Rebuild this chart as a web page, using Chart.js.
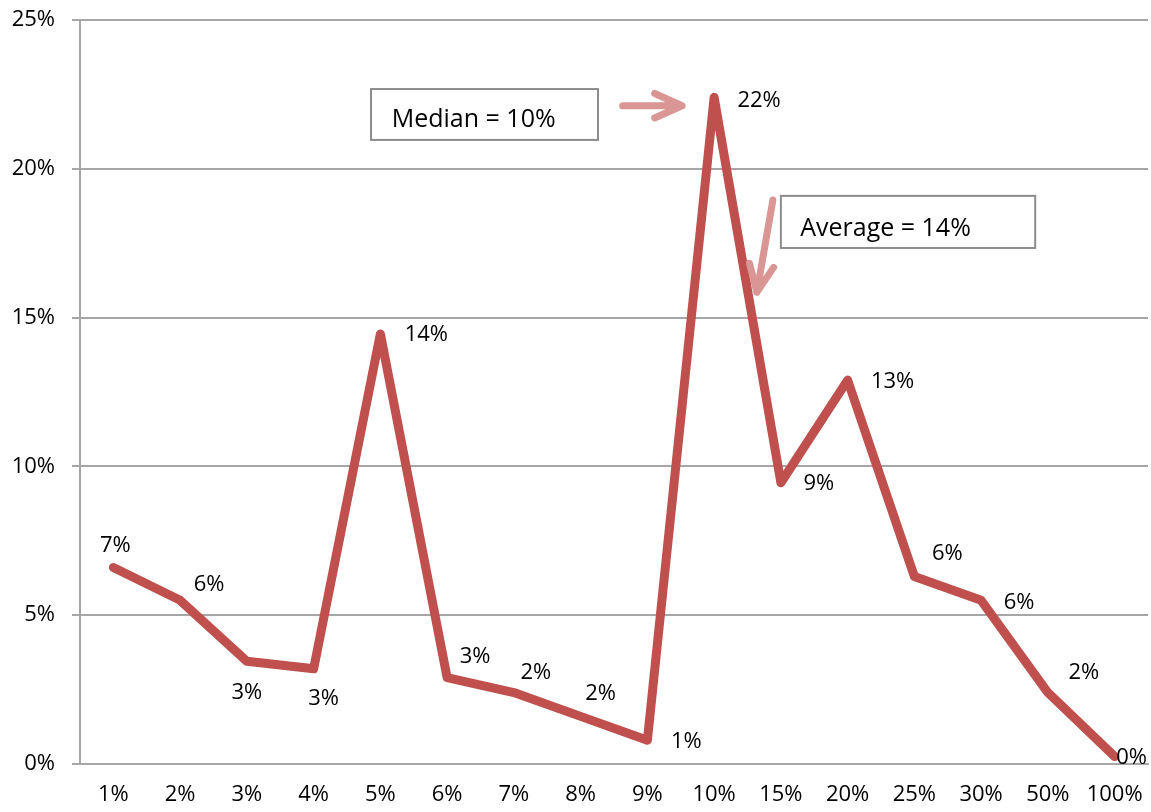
<!DOCTYPE html>
<html>
<head>
<meta charset="utf-8">
<script src="https://cdn.jsdelivr.net/npm/chart.js@4.4.0/dist/chart.umd.min.js"></script>
<style>
  html, body { margin: 0; padding: 0; background: #fff; }
  #wrap { width: 1151px; height: 812px; }
</style>
</head>
<body>
<div id="wrap"><canvas id="myChart"></canvas></div>
<script>
// categories and values (percent)
const categories = ['1%', '2%', '3%', '4%', '5%', '6%', '7%', '8%', '9%', '10%', '15%', '20%', '25%', '30%', '50%', '100%'];
const shares = [6.6, 5.5, 3.45, 3.2, 14.45, 2.9, 2.4, 1.6, 0.8, 22.4, 9.45, 12.9, 6.3, 5.5, 2.4, 0.25];
const yTicks = [0, 5, 10, 15, 20, 25];

// where each data label sits relative to its point (px)
const labelOffsets = [
    [2, -22], [29, -16], [0, 31], [10, 30], [46, 1], [28, -21], [22, -20], [20, -23],
    [39, 2], [45, 3], [38, 1], [45, 2], [33, -23], [38, 2], [36, -20], [17, 1]
];

const FONT = '"Open Sans", "Liberation Sans", sans-serif';

// data labels
const labelPlugin = {
    id: 'pointLabels',
    afterDatasetsDraw(chart) {
        const ctx = chart.ctx;
        const meta = chart.getDatasetMeta(0);
        ctx.save();
        ctx.font = '22px ' + FONT;
        ctx.fillStyle = '#000';
        ctx.textAlign = 'center';
        ctx.textBaseline = 'middle';
        meta.data.forEach((pt, i) => {
            const off = labelOffsets[i];
            ctx.fillText(Math.round(shares[i]) + '%', pt.x + off[0], pt.y + off[1]);
        });
        ctx.restore();
    }
};

// callout boxes and arrows, placed in axis units (category index, percent)
const calloutPlugin = {
    id: 'callouts',
    afterDatasetsDraw(chart) {
        const ctx = chart.ctx;
        const xs = chart.scales.x, ys = chart.scales.y;
        const px = i => xs.getPixelForValue(i);
        const py = v => ys.getPixelForValue(v);

        function box(x0, x1, y0, y1, text, tx, ty) {
            ctx.save();
            ctx.fillStyle = '#fff';
            ctx.strokeStyle = '#8c8c8c';
            ctx.lineWidth = 2;
            const l = px(x0), r = px(x1), t = py(y0), b = py(y1);
            ctx.fillRect(l, t, r - l, b - t);
            ctx.strokeRect(l, t, r - l, b - t);
            ctx.font = '25px ' + FONT;
            ctx.fillStyle = '#000';
            ctx.textAlign = 'left';
            ctx.textBaseline = 'middle';
            ctx.fillText(text, px(tx), py(ty));
            ctx.restore();
        }

        function arrow(x0, y0, x1, y1) {
            const ax = px(x0), ay = py(y0), bx = px(x1), by = py(y1);
            const ang = Math.atan2(by - ay, bx - ax);
            const len = 30, spread = 0.42;
            ctx.save();
            ctx.strokeStyle = '#DA9694';
            ctx.lineWidth = 7;
            ctx.lineCap = 'round';
            ctx.lineJoin = 'round';
            ctx.beginPath();
            ctx.moveTo(ax, ay);
            ctx.lineTo(bx, by);
            ctx.moveTo(bx - len * Math.cos(ang - spread), by - len * Math.sin(ang - spread));
            ctx.lineTo(bx, by);
            ctx.lineTo(bx - len * Math.cos(ang + spread), by - len * Math.sin(ang + spread));
            ctx.stroke();
            ctx.restore();
        }

        box(3.86, 7.26, 22.68, 20.97, 'Median = 10%', 4.17, 21.65);
        arrow(7.63, 22.12, 8.52, 22.12);
        box(10.0, 13.81, 19.09, 17.34, 'Average = 14%', 10.29, 17.98);
        arrow(9.88, 18.95, 9.64, 15.85);
    }
};

const ctx = document.getElementById('myChart').getContext('2d');
const myChart = new Chart(ctx, {
    type: 'line',
    data: {
        labels: categories,
        datasets: [{
            data: shares,
            borderColor: '#C0504D',
            borderWidth: 9,
            borderCapStyle: 'round',
            borderJoinStyle: 'round',
            pointRadius: 0,
            tension: 0,
            fill: false
        }]
    },
    options: {
        responsive: true,
        maintainAspectRatio: false,
        animation: false,
        layout: { padding: { top: 20, right: 3, left: 0, bottom: 0 } },
        plugins: {
            legend: { display: false },
            tooltip: { enabled: false }
        },
        scales: {
            x: {
                offset: true,
                grid: { display: false, drawTicks: false },
                border: { display: true, color: '#a6a6a6', width: 2 },
                ticks: {
                    color: '#000',
                    font: { family: FONT, size: 22 },
                    padding: 18,
                    maxRotation: 0,
                    autoSkip: false
                },
                afterFit(scale) {
                    scale.height = 48;
                    scale.paddingLeft = 0;
                    scale.paddingRight = 0;
                }
            },
            y: {
                min: 0,
                max: 25,
                afterBuildTicks(scale) { scale.ticks = yTicks.map(v => ({ value: v })); },
                grid: { color: '#a6a6a6', lineWidth: 2, tickLength: 8 },
                border: { display: true, color: '#a6a6a6', width: 2 },
                ticks: {
                    color: '#000',
                    font: { family: FONT, size: 22 },
                    padding: 17,
                    callback: v => v + '%'
                },
                afterFit(scale) {
                    scale.width = 80;
                    scale.paddingTop = 0;
                    scale.paddingBottom = 0;
                }
            }
        }
    },
    plugins: [labelPlugin, calloutPlugin]
});
</script>
</body>
</html>
